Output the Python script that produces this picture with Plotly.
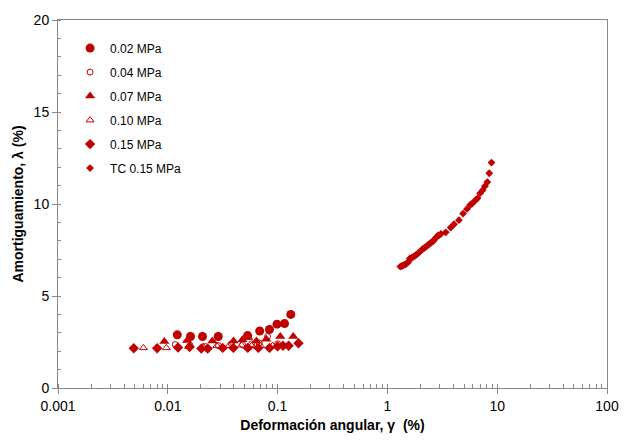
import plotly.graph_objects as go

RED = "#C00000"

# 0.02 MPa (filled circles)
x_002 = [0.0122, 0.0161, 0.0207, 0.0288, 0.0533, 0.0687, 0.0843, 0.0988, 0.1157, 0.1318]
y_002 = [2.89, 2.80, 2.80, 2.80, 2.85, 3.10, 3.18, 3.47, 3.50, 4.00]

# 0.04 MPa (open circles)
x_004 = [0.0117, 0.016, 0.022, 0.029, 0.038, 0.048, 0.058, 0.068, 0.081, 0.10]
y_004 = [2.36, 2.30, 2.25, 2.30, 2.40, 2.35, 2.40, 2.45, 2.80, 2.40]

# 0.07 MPa (filled triangles)
x_007 = [0.0093, 0.015, 0.0255, 0.0397, 0.0478, 0.054, 0.0641, 0.0789, 0.1057, 0.139]
y_007 = [2.53, 2.58, 2.55, 2.55, 2.62, 2.75, 2.55, 2.65, 2.80, 2.80]

# 0.10 MPa (open triangles)
x_010 = [0.0060, 0.0097, 0.0155, 0.021, 0.028, 0.036, 0.047, 0.058, 0.070, 0.090]
y_010 = [2.18, 2.18, 2.25, 2.25, 2.30, 2.30, 2.32, 2.30, 2.30, 2.30]

# 0.15 MPa (filled diamonds)
x_015 = [0.0049, 0.0080, 0.0124, 0.0158, 0.0202, 0.0231, 0.0316, 0.0395, 0.0535,
         0.0667, 0.0844, 0.100, 0.112, 0.126, 0.155]
y_015 = [2.16, 2.16, 2.20, 2.23, 2.14, 2.14, 2.18, 2.18, 2.18,
         2.18, 2.18, 2.26, 2.30, 2.30, 2.43]

# TC 0.15 MPa (small diamonds)
x_tc = [1.31, 1.36, 1.40, 1.45, 1.50, 1.55, 1.60, 1.66, 1.72, 1.78, 1.84, 1.90, 1.97,
        2.04, 2.11, 2.18, 2.26, 2.34, 2.42, 2.50, 2.59, 2.66, 2.74, 2.87, 2.95, 3.07,
        3.40, 3.77, 4.04, 4.48, 4.89, 5.31, 5.69, 5.89, 6.30, 6.62, 6.98, 7.38, 7.73,
        8.13, 8.47, 8.88]
y_tc = [6.60, 6.63, 6.68, 6.70, 6.77, 6.85, 7.04, 7.08, 7.13, 7.18, 7.25, 7.32, 7.40,
        7.48, 7.57, 7.62, 7.69, 7.76, 7.84, 7.90, 7.96, 8.05, 8.14, 8.28, 8.30, 8.37,
        8.46, 8.72, 8.90, 9.12, 9.48, 9.73, 9.96, 10.01, 10.19, 10.31, 10.58, 10.75, 10.97,
        11.19, 11.67, 12.25]

series = [
    ("0.02 MPa", x_002, y_002, dict(symbol="circle", size=9, color=RED)),
    ("0.04 MPa", x_004, y_004, dict(symbol="circle-open", size=6, color=RED, line=dict(width=1, color=RED))),
    ("0.07 MPa", x_007, y_007, dict(symbol="triangle-up", size=9, color=RED)),
    ("0.10 MPa", x_010, y_010, dict(symbol="triangle-up-open", size=7, color=RED, line=dict(width=1, color=RED))),
    ("0.15 MPa", x_015, y_015, dict(symbol="diamond", size=8, color=RED)),
    ("TC 0.15 MPa", x_tc, y_tc, dict(symbol="diamond", size=6, color=RED)),
]

fig = go.Figure()
for i, (name, xs, ys, mk) in enumerate(series):
    fig.add_trace(go.Scatter(x=xs, y=ys, mode="markers", name=name, marker=mk,
                             legendgroup=f"g{i}"))

font_family = "Arial, Liberation Sans, sans-serif"
fig.update_layout(
    width=631, height=443,
    margin=dict(l=58, r=13, t=16, b=50),
    paper_bgcolor="white", plot_bgcolor="white",
    font=dict(family=font_family, color="#000000"),
    showlegend=True,
    legend=dict(x=0.022, y=0.963, xanchor="left", yanchor="top",
                bgcolor="rgba(0,0,0,0)", borderwidth=0,
                font=dict(size=12, family=font_family, color="#000000"),
                tracegroupgap=5, itemsizing="trace"),
    xaxis=dict(type="log", range=[-3, 2],
               showgrid=False, zeroline=False,
               showline=True, linecolor="#888888", linewidth=1, mirror=True,
               ticks="outside", ticklen=5, tickcolor="#888888",
               tickvals=[0.001, 0.01, 0.1, 1, 10, 100],
               ticktext=["0.001", "0.01", "0.1", "1", "10", "100"],
               tickfont=dict(size=14, family=font_family),
               minor=dict(ticks="inside", ticklen=4, tickcolor="#888888", dtick="D1", showgrid=False),
               title=dict(text="<b>Deformación angular, γ  (%)</b>", font=dict(size=14, family=font_family), standoff=7)),
    yaxis=dict(range=[0, 20],
               showgrid=False, zeroline=False,
               showline=True, linecolor="#888888", linewidth=1, mirror=True,
               ticks="outside", ticklen=5, tickcolor="#888888",
               dtick=5, tickfont=dict(size=14, family=font_family),
               minor=dict(ticks="inside", ticklen=3, tickcolor="#888888", dtick=1, showgrid=False),
               title=dict(text="<b>Amortiguamiento, λ (%)</b>", font=dict(size=14, family=font_family), standoff=6)),
)

fig.write_html("out.html")
